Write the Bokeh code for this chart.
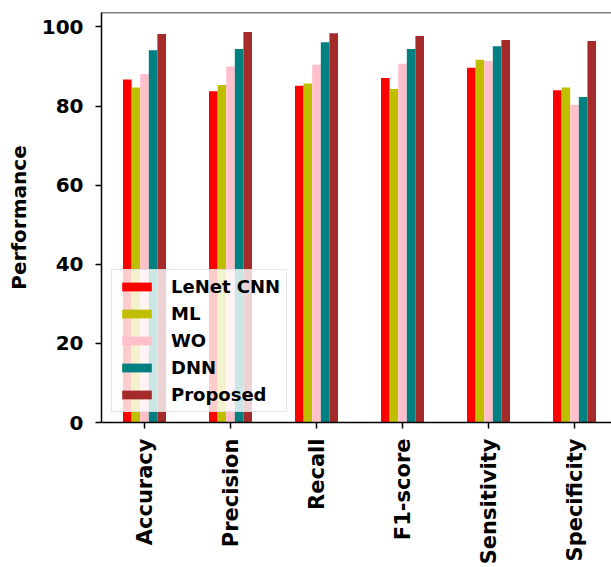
import math
from bokeh.plotting import figure
from bokeh.models import ColumnDataSource, FixedTicker, Span, Legend, LegendItem
from bokeh.transform import dodge
from bokeh.embed import file_html
from bokeh.resources import INLINE

metrics = ["Accuracy", "Precision", "Recall", "F1-score", "Sensitivity", "Specificity"]
lenet_cnn = [86.7, 83.7, 85.1, 87.1, 89.7, 84.0]
ml = [84.7, 85.3, 85.7, 84.3, 91.7, 84.7]
wo = [88.1, 90.0, 90.4, 90.7, 91.4, 80.3]
dnn = [94.1, 94.4, 96.1, 94.4, 95.1, 82.3]
proposed = [98.2, 98.7, 98.4, 97.7, 96.7, 96.4]

series_names = ["LeNet CNN", "ML", "WO", "DNN", "Proposed"]
series_keys = ["lenet", "ml", "wo", "dnn", "proposed"]
colors = ["#ff0000", "#bfbf00", "#ffc0cb", "#008080", "#a52a2a"]
offsets = [-0.2, -0.1, 0.0, 0.1, 0.2]

src = ColumnDataSource(dict(
    x=list(range(len(metrics))),
    lenet=lenet_cnn, ml=ml, wo=wo, dnn=dnn, proposed=proposed,
))

FONT = "DejaVu Sans"
y_top = max(proposed) * 1.05

p = figure(width=611, height=567, x_range=(-0.5, 5.43), y_range=(0, y_top),
           output_backend="svg", toolbar_location=None,
           min_border_left=101, min_border_top=12, min_border_right=0, min_border_bottom=144)
p.outline_line_color = None
p.xgrid.visible = False
p.ygrid.visible = False

items = []
for name, key, col, off in zip(series_names, series_keys, colors, offsets):
    r = p.vbar(x=dodge("x", off), top=key, width=0.1, bottom=0, source=src,
               fill_color=col, line_color=None)
    items.append(LegendItem(label=name, renderers=[r]))

legend = Legend(items=items, location="bottom_left")
legend.margin = 10
legend.padding = 6
legend.spacing = 6
legend.glyph_width = 37
legend.glyph_height = 11
legend.label_height = 20
legend.label_standoff = 16
legend.label_text_font = FONT
legend.label_text_font_style = "bold"
legend.label_text_font_size = "18px"
legend.label_text_color = "black"
legend.border_line_color = "#cccccc"
legend.background_fill_alpha = 0.8
p.add_layout(legend, "center")

p.add_layout(Span(location=y_top, dimension="width", line_color="black", line_width=1.5))

p.xaxis.ticker = FixedTicker(ticks=list(range(len(metrics))))
p.xaxis.major_label_overrides = {i: m for i, m in enumerate(metrics)}
p.xaxis.major_label_orientation = math.pi / 2
p.yaxis.ticker = FixedTicker(ticks=[0, 20, 40, 60, 80, 100])
p.yaxis.axis_label = "Performance"

for ax in (p.xaxis, p.yaxis):
    ax.axis_line_color = "black"
    ax.axis_line_width = 1.5
    ax.major_tick_line_color = "black"
    ax.major_tick_line_width = 1.5
    ax.major_tick_out = 6
    ax.major_tick_in = 0
    ax.minor_tick_line_color = None
    ax.major_label_text_font = FONT
    ax.major_label_text_font_style = "bold"
    ax.major_label_text_font_size = "20px"
    ax.major_label_text_color = "black"
    ax.major_label_standoff = 8
    ax.axis_label_text_font = FONT
    ax.axis_label_text_font_style = "bold"
    ax.axis_label_text_font_size = "20px"
    ax.axis_label_text_color = "black"
p.yaxis.major_label_standoff = 12
p.yaxis.axis_label_standoff = 8
p.xaxis.major_label_standoff = 10
p.xaxis.major_label_text_font_size = "21px"

open("out.html", "w").write(file_html(p, INLINE))
